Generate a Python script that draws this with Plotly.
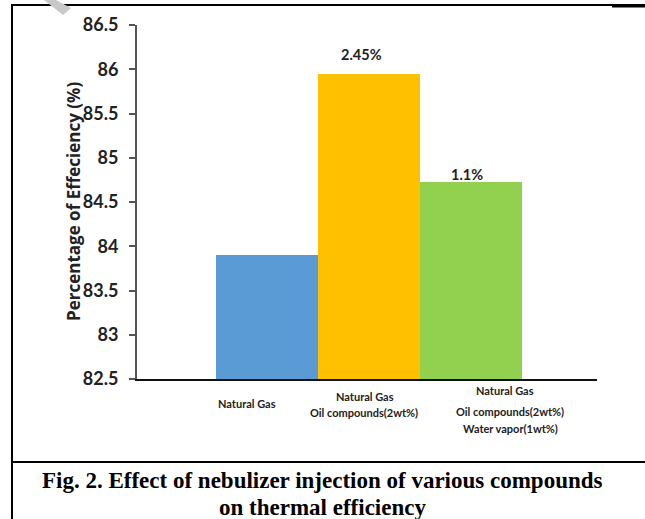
import plotly.graph_objects as go

# Data
categories = [
    ["Natural Gas"],
    ["Natural Gas", "Oil compounds(2wt%)"],
    ["Natural Gas", "Oil compounds(2wt%)", "Water vapor(1wt%)"],
]
efficiency = [83.90, 85.95, 84.73]
increase_labels = ["", "2.45%", "1.1%"]
bar_colors = ["#5B9BD5", "#FFC000", "#92D050"]
y_ticks = [82.5, 83, 83.5, 84, 84.5, 85, 85.5, 86, 86.5]
y_base = 82.5

W, H = 645, 519
L, R, T, B = 137, 48, 25, 140
PW, PH = W - L - R, H - T - B


def px(xp):
    return (xp - L) / PW


def py(yp):
    return (H - B - yp) / PH


fig = go.Figure()
fig.add_trace(go.Bar(
    x=[0, 1, 2],
    y=[v - y_base for v in efficiency],
    base=y_base,
    width=1.0,
    marker=dict(color=bar_colors, line=dict(width=0)),
    hoverinfo="skip",
))

font_sans = "Lato, 'Open Sans', sans-serif"

annotations = []
# percentage increase above bars
label_tweaks = {1: (-0.07, 19), 2: (-0.04, 7)}
for i, lab in enumerate(increase_labels):
    if lab:
        dx, ys = label_tweaks[i]
        annotations.append(dict(
            x=i + dx, y=efficiency[i], xref="x", yref="y",
            text="<b>%s</b>" % lab, showarrow=False, yanchor="middle", yshift=ys,
            font=dict(family=font_sans, size=14.5, color="#222"),
        ))

# category labels, one annotation per line
line_pos = [
    [(247, 403)],
    [(365, 396), (364, 413)],
    [(505, 390), (510, 411), (510, 428)],
]
for lines, pos in zip(categories, line_pos):
    for txt, (cx, cy) in zip(lines, pos):
        annotations.append(dict(
            x=px(cx), y=py(cy), xref="paper", yref="paper",
            text="<b>%s</b>" % txt, showarrow=False, xanchor="center", yanchor="middle",
            font=dict(family=font_sans, size=11, color="#222"),
        ))

# y-axis title
annotations.append(dict(
    x=px(73), y=py(202), xref="paper", yref="paper", textangle=-90,
    text="<b>Percentage of Effeciency (%)</b>", showarrow=False,
    xanchor="center", yanchor="middle",
    font=dict(family="'Open Sans', sans-serif", size=17, color="#222"),
))

# caption
for yy, txt in [(480, "Fig. 2. Effect of nebulizer injection of various compounds"),
                (508, "on thermal efficiency")]:
    annotations.append(dict(
        x=px(322), y=py(yy), xref="paper", yref="paper",
        text="<b>%s</b>" % txt, showarrow=False, xanchor="center", yanchor="middle",
        font=dict(family="'Liberation Serif', 'Times New Roman', serif", size=23, color="#000"),
    ))

shapes = [
    # frame
    dict(type="line", xref="paper", yref="paper", x0=px(12), x1=px(12), y0=py(5), y1=py(520),
         line=dict(color="#000", width=2)),
    dict(type="line", xref="paper", yref="paper", x0=px(11), x1=px(646), y0=py(5), y1=py(5),
         line=dict(color="#000", width=2)),
    dict(type="line", xref="paper", yref="paper", x0=px(612), x1=px(646), y0=py(6), y1=py(6),
         line=dict(color="#000", width=3)),
    dict(type="line", xref="paper", yref="paper", x0=px(11), x1=px(646), y0=py(462), y1=py(462),
         line=dict(color="#000", width=2)),
    # grey corner mark
    dict(type="path", xref="paper", yref="paper",
         path="M %f %f L %f %f L %f %f L %f %f Z" % (px(44), py(0), px(56), py(0),
                                                    px(71), py(8), px(63), py(15)),
         fillcolor="#c8c8c8", line=dict(width=0)),
]

fig.update_layout(
    width=W, height=H,
    margin=dict(l=L, r=R, t=T, b=B),
    paper_bgcolor="white", plot_bgcolor="white",
    showlegend=False,
    bargap=0,
    annotations=annotations,
    shapes=shapes,
    xaxis=dict(range=[-1.275, 3.235], showticklabels=False, ticks="", showgrid=False,
               zeroline=False, showline=True, linecolor="#111", linewidth=2,
               fixedrange=True),
    yaxis=dict(range=[82.5, 86.5], tickvals=y_ticks,
               ticktext=["<b>%g</b>" % v for v in y_ticks],
               ticks="outside", ticklen=6, tickcolor="#555", tickwidth=1.5,
               ticklabelstandoff=7,
               showline=True, linecolor="#555", linewidth=2, showgrid=False,
               zeroline=False, tickfont=dict(family=font_sans, size=18, color="#222"),
               fixedrange=True),
)

fig.write_html("out.html", config={"displayModeBar": False})
